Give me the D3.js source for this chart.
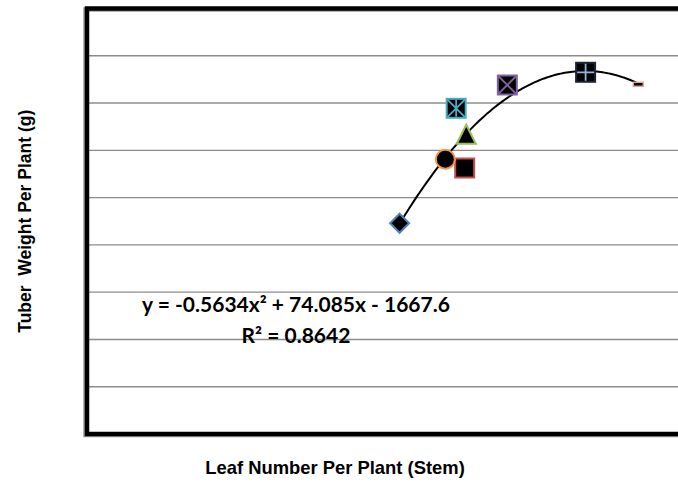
<!DOCTYPE html>
<html><head><meta charset="utf-8">
<script src="https://cdn.jsdelivr.net/npm/d3@7"></script>
<style>body{margin:0;background:#fff}svg{display:block}</style>
</head><body><svg id="c" width="678" height="483"></svg>
<script>
// data
const seriesNames = ["S1","S2","S3","S4","S5","S6","S7","S8"];
const markerTypes = ["diamond","square","triangle","x","asterisk","circle","plus","dash"];
const markerColors = ["#4F81BD","#C0504D","#9BBB59","#8064A2","#4BACC6","#F79646","#8EB4E3","#E6A0A0"];
const leafNumber = [41.8, 50.2, 50.4, 55.7, 49.1, 47.7, 65.8, 72.6];
const tuberWeight = [445.7, 562.6, 634, 738.2, 688.9, 581, 765.1, 739.7];
const trendCoef = [-0.5634, 74.085, -1667.6]; // a, b, c
const yTicks = [0,100,200,300,400,500,600,700,800,900];
const eqText = "y = -0.5634x\u00B2 + 74.085x - 1667.6";
const r2Text = "R\u00B2 = 0.8642";
const xTitle = "Leaf Number Per Plant (Stem)";
const yTitle = "Tuber  Weight Per Plant (g)";

const svg = d3.select("#c");
const L = 87, T = 8.5, B = 434, R = 700;
const x = d3.scaleLinear().domain([1.4, 80]).range([86.5, 86.5 + 78.6*7.75]);
const y = d3.scaleLinear().domain([0, 900]).range([B, T]);

// gridlines
svg.append("g").selectAll("line").data(yTicks.slice(1, -1)).join("line")
  .attr("x1", L).attr("x2", R).attr("y1", d => y(d)).attr("y2", d => y(d))
  .attr("stroke", "#8c8c8c").attr("stroke-width", 1.4);

// frame shadow + frame
svg.append("rect").attr("x", L - 1.5).attr("y", T + 1).attr("width", R).attr("height", B - T)
  .attr("fill", "none").attr("stroke", "#9a9a9a").attr("stroke-width", 4.5);
svg.append("rect").attr("x", L).attr("y", T).attr("width", R).attr("height", B - T)
  .attr("fill", "none").attr("stroke", "#000").attr("stroke-width", 4.5);

// trendline
const [a, b, c] = trendCoef;
const xs = d3.range(0, 121).map(i => d3.min(leafNumber) + i * (d3.max(leafNumber) - d3.min(leafNumber)) / 120);
svg.append("path").datum(xs)
  .attr("d", d3.line().x(d => x(d)).y(d => y(a*d*d + b*d + c)).curve(d3.curveLinear))
  .attr("fill", "none").attr("stroke", "#000").attr("stroke-width", 2);

// markers
const s = 19;
const g = svg.append("g");
leafNumber.forEach((lx, i) => {
  const cx = x(lx), cy = y(tuberWeight[i]), col = markerColors[i], t = markerTypes[i];
  const m = g.append("g").attr("transform", `translate(${cx},${cy})`);
  const h = s / 2;
  if (t === "diamond") {
    m.append("path").attr("d", `M0,${-h}L${h},0L0,${h}L${-h},0Z`).attr("fill", "#000").attr("stroke", col).attr("stroke-width", 2);
  } else if (t === "circle") {
    m.append("circle").attr("r", h).attr("fill", "#000").attr("stroke", col).attr("stroke-width", 2);
  } else if (t === "triangle") {
    m.append("path").attr("d", `M0,${-h}L${h},${h}L${-h},${h}Z`).attr("fill", "#000").attr("stroke", col).attr("stroke-width", 2);
  } else if (t === "dash") {
    m.append("rect").attr("x", -5).attr("y", -2).attr("width", 10).attr("height", 4).attr("fill", "#000").attr("stroke", col).attr("stroke-width", 1.5);
  } else {
    m.append("rect").attr("x", -h).attr("y", -h).attr("width", s).attr("height", s).attr("fill", "#000")
      .attr("stroke", t === "plus" ? "#1a2433" : col).attr("stroke-width", 2);
    const k = h - 1;
    let d = "";
    if (t === "x" || t === "asterisk") d += `M${-k},${-k}L${k},${k}M${-k},${k}L${k},${-k}`;
    if (t === "asterisk") d += `M0,${-k}L0,${k}`;
    if (t === "plus") d += `M0,${-k}L0,${k}M${-k},0L${k},0`;
    m.append("path").attr("d", d).attr("stroke", col).attr("stroke-width", 1.8).attr("fill", "none");
  }
});

// equation
const eq = svg.append("g").attr("font-family", "Lato, 'Open Sans', sans-serif").attr("font-weight", "bold").attr("font-size", 21).attr("fill", "#000").attr("text-anchor", "middle");
eq.append("text").attr("x", 296).attr("y", 312).text(eqText);
eq.append("text").attr("x", 296).attr("y", 343).text(r2Text);

// axis titles
svg.append("text").attr("x", 335).attr("y", 474).attr("text-anchor", "middle")
  .attr("font-family", "'Liberation Sans', Arial, sans-serif").attr("font-weight", "bold").attr("font-size", 18.4)
  .text(xTitle);
svg.append("text").attr("transform", `translate(31,${(T + B) / 2}) rotate(-90)`).attr("text-anchor", "middle")
  .attr("font-family", "'Liberation Sans', Arial, sans-serif").attr("font-weight", "bold").attr("font-size", 17.5)
  .style("white-space", "pre").text(yTitle);
</script></body></html>
